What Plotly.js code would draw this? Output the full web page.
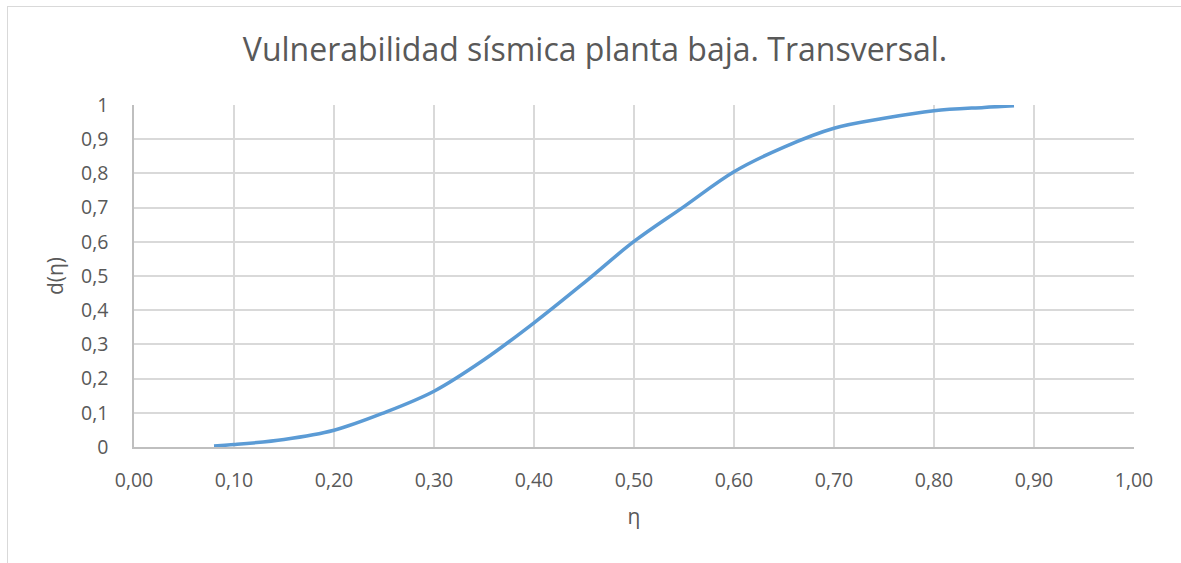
<!DOCTYPE html>
<html>
<head>
<meta charset="utf-8">
<script src="https://cdn.plot.ly/plotly-3.0.1.min.js"></script>
<style>
  html, body { margin: 0; padding: 0; background: #ffffff; }
  #wrap { position: relative; width: 1181px; height: 563px; overflow: hidden; }
  #frame { position: absolute; left: 7px; top: 6px; width: 1300px; height: 700px;
           border-left: 1px solid #d9d9d9; border-top: 1px solid #d9d9d9; pointer-events: none; }
  #chart { position: absolute; left: 0; top: 0; width: 1181px; height: 563px; }
</style>
</head>
<body>
<div id="wrap">
  <div id="chart"></div>
  <div id="frame"></div>
</div>
<script>
// Data
const eta = [0.08, 0.10, 0.15, 0.20, 0.25, 0.30, 0.35, 0.40, 0.45, 0.50, 0.55, 0.60, 0.65, 0.70, 0.75, 0.80, 0.85, 0.88];
const d   = [0.003, 0.007, 0.022, 0.049, 0.100, 0.163, 0.255, 0.363, 0.480, 0.601, 0.703, 0.805, 0.877, 0.932, 0.961, 0.983, 0.993, 0.998];

const xTickVals = [0, 0.1, 0.2, 0.3, 0.4, 0.5, 0.6, 0.7, 0.8, 0.9, 1.0];
const xTickText = ["0,00", "0,10", "0,20", "0,30", "0,40", "0,50", "0,60", "0,70", "0,80", "0,90", "1,00"];
const yTickVals = [0, 0.1, 0.2, 0.3, 0.4, 0.5, 0.6, 0.7, 0.8, 0.9, 1.0];
const yTickText = ["0", "0,1", "0,2", "0,3", "0,4", "0,5", "0,6", "0,7", "0,8", "0,9", "1"];

const titleText = "Vulnerabilidad sísmica planta baja. Transversal.";
const xTitle = "η";
const yTitle = "d(η)";

const FONT = "'Open Sans', 'Noto Sans', sans-serif";
const TXT = "#595959";

const trace = {
  x: eta, y: d,
  type: "scatter", mode: "lines",
  line: { color: "#5b9bd5", width: 3.5, shape: "spline", smoothing: 1 },
  hoverinfo: "x+y"
};

const layout = {
  width: 1181, height: 563,
  margin: { l: 134, r: 47, t: 105, b: 116 },
  paper_bgcolor: "#ffffff", plot_bgcolor: "#ffffff",
  showlegend: false,
  font: { family: FONT, color: TXT, size: 19 },
  title: {
    text: titleText,
    font: { family: FONT, size: 32, color: TXT },
    x: 595 / 1181, xref: "container", xanchor: "center",
    y: 1 - 50 / 563, yref: "container", yanchor: "middle"
  },
  xaxis: {
    range: [0, 1], tickmode: "array", tickvals: xTickVals, ticktext: xTickText,
    showgrid: true, gridcolor: "#d9d9d9", gridwidth: 1.5,
    showline: true, linecolor: "#bfbfbf", linewidth: 1.5,
    zeroline: false, ticks: "", ticklabelstandoff: 15,
    tickfont: { family: FONT, size: 19.5, color: TXT },
    title: { text: xTitle, font: { family: FONT, size: 21, color: TXT }, standoff: 17 },
    fixedrange: true
  },
  yaxis: {
    range: [0, 1], tickmode: "array", tickvals: yTickVals, ticktext: yTickText,
    showgrid: true, gridcolor: "#d9d9d9", gridwidth: 1.5,
    showline: true, linecolor: "#bfbfbf", linewidth: 1.5,
    zeroline: false, ticks: "", ticklabelstandoff: 20,
    tickfont: { family: FONT, size: 19.5, color: TXT },
    title: { text: yTitle, font: { family: FONT, size: 21, color: TXT }, standoff: 12 },
    fixedrange: true
  }
};

Plotly.newPlot("chart", [trace], layout, { displayModeBar: false });
</script>
</body>
</html>
